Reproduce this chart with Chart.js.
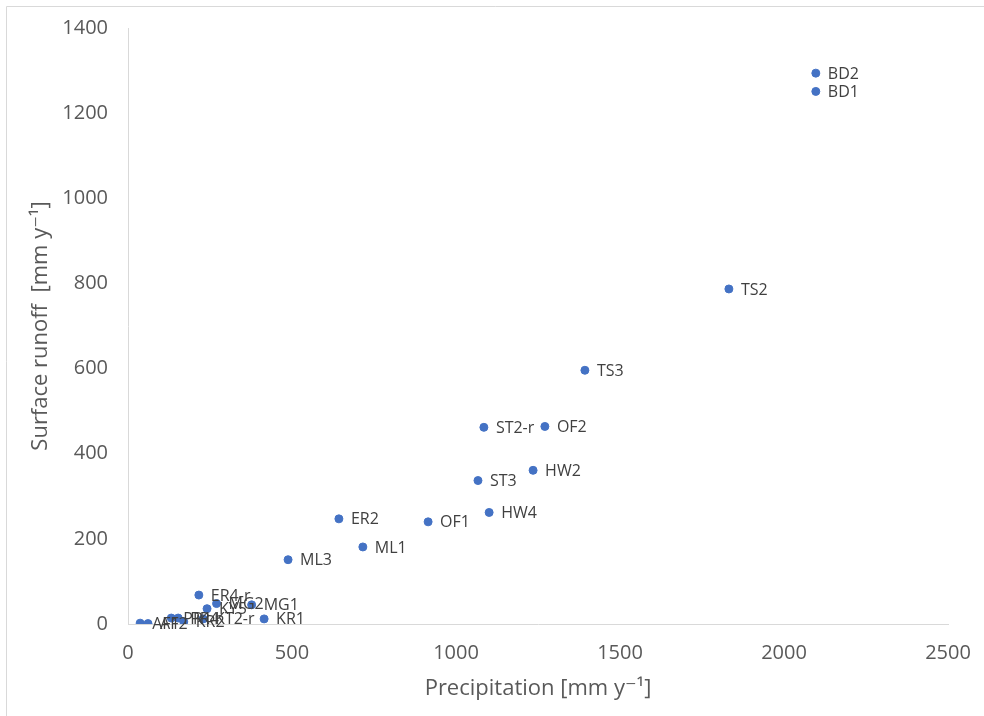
<!DOCTYPE html>
<html>
<head>
<meta charset="utf-8">
<script src="https://cdn.jsdelivr.net/npm/chart.js@4"></script>
<style>
html,body{margin:0;padding:0;background:#fff;}
#wrap{width:984px;height:716px;}
</style>
</head>
<body>
<div id="wrap"><canvas id="c" width="984" height="716"></canvas></div>
<script>
const siteNames = ["AF1","AF2","PR1","PR4","KR2","KT2-r","KY5","MG2","MG1","ER4-r","KR1","ML3","ML1","ER2","OF1","HW4","ST3","HW2","ST2-r","OF2","TS3","TS2","BD1","BD2"];
const precipitation = [37,61,132,153,170,229,241,270,377,216,415,488,716,643,915,1101,1067,1235,1085,1271,1393,1832,2097,2097];
const surfaceRunoff = [2,1,14,14,5,12,36,48,45,68,12,151,181,247,240,262,337,361,462,464,596,787,1251,1294];
const xTicks = [0,500,1000,1500,2000,2500];
const yTicks = [0,200,400,600,800,1000,1200,1400];

const points = precipitation.map((p,i)=>({x:p,y:surfaceRunoff[i]}));
const FONT = "'Open Sans', 'DejaVu Sans', sans-serif";

const labelPlugin = {
  id:'pointLabels',
  afterDatasetsDraw(chart){
    const ctx = chart.ctx;
    const meta = chart.getDatasetMeta(0);
    ctx.save();
    ctx.font = "16px " + FONT;
    ctx.fillStyle = "#404040";
    ctx.textAlign = "left";
    ctx.textBaseline = "middle";
    meta.data.forEach((el,i)=>{
      ctx.fillText(siteNames[i], el.x + 12, el.y + 1);
    });
    ctx.restore();
  }
};
const framePlugin = {
  id:'frame',
  afterDraw(chart){
    const ctx = chart.ctx;
    ctx.save();
    ctx.strokeStyle = "#d9d9d9";
    ctx.lineWidth = 1;
    ctx.beginPath();
    ctx.moveTo(6.5, 716); ctx.lineTo(6.5, 6.5); ctx.lineTo(984, 6.5);
    ctx.stroke();
    ctx.restore();
  }
};

new Chart(document.getElementById('c'), {
  type:'scatter',
  data:{datasets:[{
    data: points,
    backgroundColor:'#4472C4',
    borderColor:'#4472C4',
    pointRadius:4,
    pointHoverRadius:4
  }]},
  options:{
    responsive:false,
    animation:false,
    layout:{padding:{top:28,right:36,bottom:0,left:0}},
    plugins:{legend:{display:false},tooltip:{enabled:false}},
    scales:{
      x:{
        type:'linear', min:0, max:2500,
        afterBuildTicks(s){ s.ticks = xTicks.map(v=>({value:v})); },
        afterFit(s){ s.height = 92; s.paddingLeft = 0; s.paddingRight = 0; },
        grid:{display:false, drawTicks:false},
        border:{display:true,color:'#d9d9d9',width:1},
        ticks:{padding:17,color:'#595959',font:{family:FONT,size:20},callback:v=>String(v)},
        title:{display:true,text:'Precipitation [mm y⁻¹]',color:'#595959',font:{family:FONT,size:22},padding:{top:0,bottom:14}}
      },
      y:{
        type:'linear', min:0, max:1400,
        afterBuildTicks(s){ s.ticks = yTicks.map(v=>({value:v})); },
        afterFit(s){ s.width = 128; s.paddingTop = 0; s.paddingBottom = 0; },
        grid:{display:false, drawTicks:false},
        border:{display:true,color:'#d9d9d9',width:1},
        ticks:{padding:20,color:'#595959',font:{family:FONT,size:20},callback:v=>String(v)},
        title:{display:true,text:'Surface runoff  [mm y⁻¹]',color:'#595959',font:{family:FONT,size:22},padding:{top:28,bottom:0}}
      }
    }
  },
  plugins:[labelPlugin, framePlugin]
});
</script>
</body>
</html>
